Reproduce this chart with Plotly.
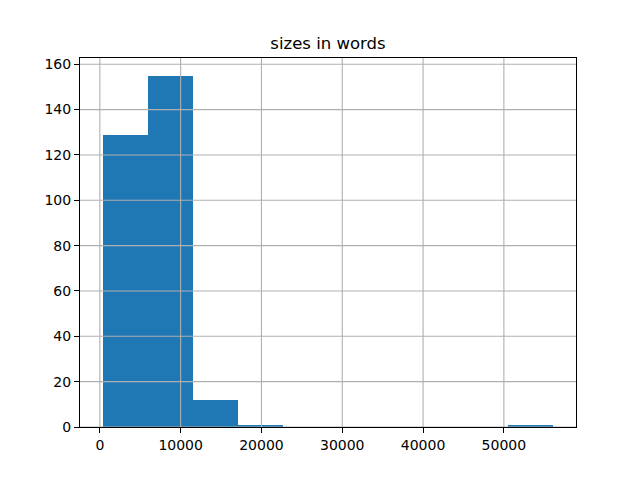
"""Histogram of document sizes in words."""

import plotly.graph_objects as go

# ── Data ──────────────────────────────────────────────────────────────────────

bin_edges = [335, 5915, 11495, 17075, 22655, 28235, 33815, 39395, 44975, 50555, 56135]
counts    = [129, 155, 12, 1, 0, 0, 0, 0, 0, 1]
x_ticks   = [0, 10000, 20000, 30000, 40000, 50000]
y_ticks   = [0, 20, 40, 60, 80, 100, 120, 140, 160]

_BAR  = '#1f77b4'
_GRID = '#b0b0b0'
_FONT = 'DejaVu Sans'

lefts   = bin_edges[:-1]
widths  = [b - a for a, b in zip(bin_edges[:-1], bin_edges[1:])]
centers = [a + w / 2 for a, w in zip(lefts, widths)]

fig = go.Figure(go.Bar(
    x=centers, y=counts, width=widths,
    marker=dict(color=_BAR, line=dict(width=0)),
    showlegend=False, hoverinfo='x+y',
))

# matplotlib draws the grid on top of the bars, so use shapes instead
for t in x_ticks:
    fig.add_shape(type='line', xref='x', yref='paper', x0=t, x1=t, y0=0, y1=1,
                  line=dict(color=_GRID, width=1.1), layer='above')
for t in y_ticks:
    fig.add_shape(type='line', xref='paper', yref='y', x0=0, x1=1, y0=t, y1=t,
                  line=dict(color=_GRID, width=1.1), layer='above')

span = bin_edges[-1] - bin_edges[0]
axis_common = dict(
    showgrid=False, zeroline=False, showline=True, linecolor='black', linewidth=1.1,
    mirror=True, ticks='outside', ticklen=5, tickwidth=1.1, tickcolor='black',
    tickfont=dict(family=_FONT, size=14, color='black'), layer='above traces',
    tickformat='d',
)
# the page body has an 8px margin, so the figure is 8px smaller and shifted
fig.update_layout(
    width=632, height=472,
    margin=dict(l=72, r=64, t=50, b=53),
    paper_bgcolor='white', plot_bgcolor='white',
    bargap=0,
    title=dict(text='sizes in words', x=0.5, xref='paper', xanchor='center',
               y=1, yref='paper', yanchor='bottom', pad=dict(b=9),
               font=dict(family=_FONT, size=16.5, color='black')),
    xaxis=dict(range=[bin_edges[0] - 0.05 * span, bin_edges[-1] + 0.05 * span],
               tickvals=x_ticks, **axis_common),
    yaxis=dict(range=[0, max(counts) * 1.05], tickvals=y_ticks, **axis_common),
)

fig.write_html("out.html")
